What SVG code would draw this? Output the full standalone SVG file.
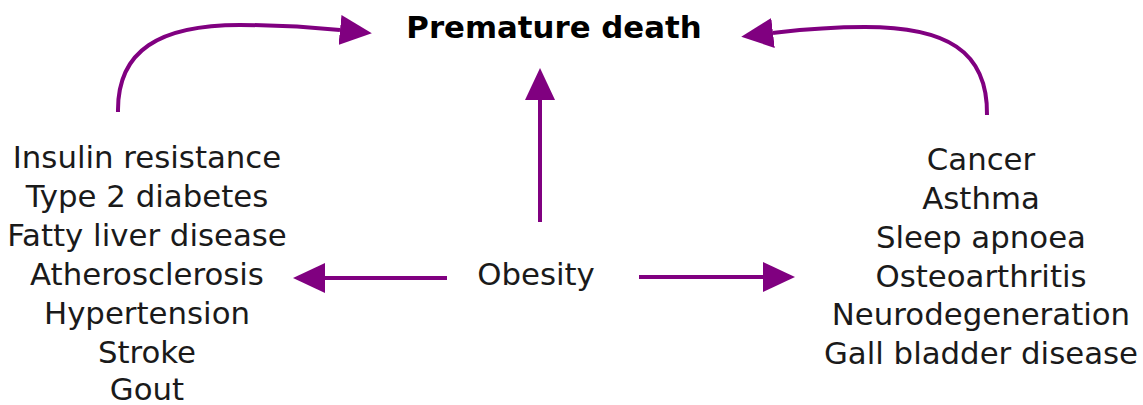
<svg xmlns="http://www.w3.org/2000/svg" width="1143" height="405" viewBox="0 0 1143 405">
<style>
.t{font-family:"DejaVu Sans",sans-serif;font-size:30.8px;fill:#1a1a1a;text-anchor:middle}
.b{font-weight:bold;fill:#000}
.c{fill:none;stroke:#800080;stroke-width:4}
</style>
<defs>
<marker id="ah" viewBox="0 0 32 30" markerWidth="32" markerHeight="30" refX="0" refY="15" orient="auto" markerUnits="userSpaceOnUse">
<path d="M0,0 L32,15 L0,30 z" fill="#800080"/>
</marker>
</defs>
<rect width="1143" height="405" fill="#fff"/>
<g id="connectors">
<path class="c" d="M118,112 C117,50 160,25 240,25 C290,25 320,28 340,30" marker-end="url(#ah)"/>
<path class="c" d="M987,115 C988,50 945,27 865,27 C820,27 790,31 773,33" marker-end="url(#ah)"/>
<path class="c" d="M540,222 L540,100" marker-end="url(#ah)"/>
<path class="c" d="M447,278 L325,278" marker-end="url(#ah)"/>
<path class="c" d="M639,277 L763,277" marker-end="url(#ah)"/>
</g>
<g id="premature-death"><text class="t b" x="554" y="38">Premature death</text></g>
<g id="obesity"><text class="t" x="536" y="285">Obesity</text></g>
<g id="metabolic">
<text class="t" x="147" y="168">Insulin resistance</text>
<text class="t" x="147" y="207">Type 2 diabetes</text>
<text class="t" x="147" y="246">Fatty liver disease</text>
<text class="t" x="147" y="285">Atherosclerosis</text>
<text class="t" x="147" y="324">Hypertension</text>
<text class="t" x="147" y="363">Stroke</text>
<text class="t" x="147" y="400">Gout</text>
</g>
<g id="other">
<text class="t" x="981" y="170">Cancer</text>
<text class="t" x="981" y="209">Asthma</text>
<text class="t" x="981" y="248">Sleep apnoea</text>
<text class="t" x="981" y="287">Osteoarthritis</text>
<text class="t" x="981" y="325">Neurodegeneration</text>
<text class="t" x="981" y="364">Gall bladder disease</text>
</g>
</svg>
